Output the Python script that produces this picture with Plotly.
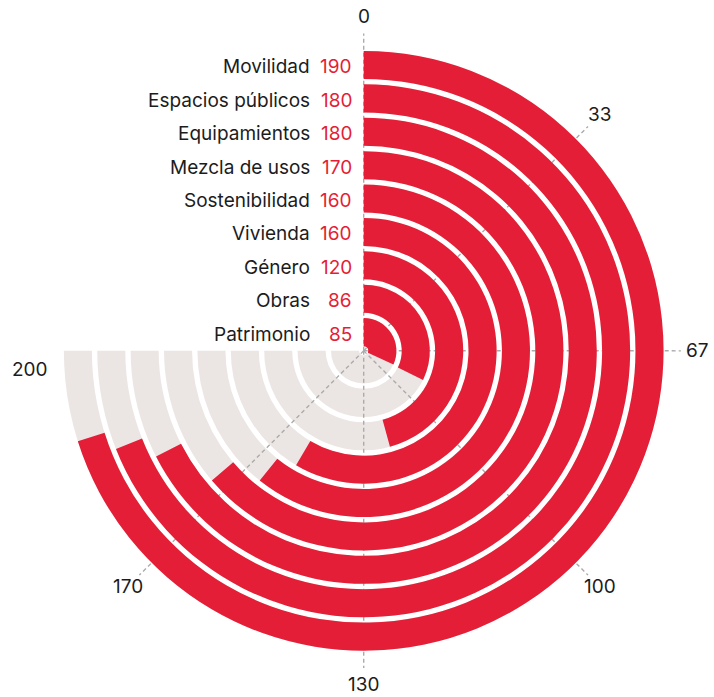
import math
import plotly.graph_objects as go

# ---------------- data ----------------
categories = ["Movilidad", "Espacios públicos", "Equipamientos", "Mezcla de usos",
              "Sostenibilidad", "Vivienda", "Género", "Obras", "Patrimonio"]
values = [187, 184, 180, 170, 162, 156, 122, 86, 85]
value_labels = ["190", "180", "180", "170", "160", "160", "120", "86", "85"]
max_value = 200
tick_values = [0, 33.33, 66.67, 100, 133.33, 166.67, 200]
tick_labels = ["0", "33", "67", "100", "130", "170", "200"]

# ---------------- style ----------------
RED = "#E41E36"
GRAY = "#EBE6E4"
GRID = "#ABABAB"
TXT = "#1c1c1c"
FONT = "Inter"
FS = 19
SWEEP = 270.0
R_MAX = 9.55
BAR_FRAC = 0.84
BAR_OFF = 0.14
PX = 33.39  # pixels per radial unit

n = len(categories)
bands = [n - 1 - k for k in range(n)]  # first category = outermost band
deg = [v / max_value * SWEEP for v in values]
tick_deg = [t / max_value * SWEEP for t in tick_values]

W, H = 714, 697
cx, cy = 363.7, 350.8
rad = R_MAX * PX
dom_x = [(cx - rad) / W, (cx + rad) / W]
dom_y = [1 - (cy + rad) / H, 1 - (cy - rad) / H]

fig = go.Figure()

# background tracks
fig.add_trace(go.Barpolar(
    r=[BAR_FRAC] * n, base=[b + BAR_OFF for b in bands],
    theta=[SWEEP / 2] * n, width=[SWEEP] * n,
    marker=dict(color=GRAY, line=dict(width=0)),
    hoverinfo="skip", subplot="polar", showlegend=False))

# dashed grid lines (above tracks, below bars); none along the closing edge
for a in tick_deg:
    if a >= SWEEP:
        continue
    fig.add_trace(go.Scatterpolar(
        r=[0, 9.5], theta=[a, a], mode="lines",
        line=dict(color=GRID, width=1.4, dash="4px,3px"),
        hoverinfo="skip", subplot="polar", showlegend=False))

# value bars
fig.add_trace(go.Barpolar(
    r=[BAR_FRAC] * n, base=[b + BAR_OFF for b in bands],
    theta=[d / 2 for d in deg], width=deg,
    marker=dict(color=RED, line=dict(width=0)),
    hoverinfo="skip", subplot="polar2", showlegend=False))

# invisible cartesian overlay (same scale/centre as the polar) for labels
fig.add_trace(go.Scatter(x=[0], y=[0], mode="markers", marker=dict(opacity=0),
                         hoverinfo="skip", showlegend=False))

ang = dict(rotation=90, direction="clockwise", showgrid=False, showline=False,
           showticklabels=False, ticks="")
radial = dict(range=[0, R_MAX], visible=False)
fig.update_layout(
    width=W, height=H,
    margin=dict(l=0, r=0, t=0, b=0),
    paper_bgcolor="white", plot_bgcolor="rgba(0,0,0,0)",
    hovermode=False,
    polar=dict(domain=dict(x=dom_x, y=dom_y), bgcolor="white",
               angularaxis=ang, radialaxis=radial, hole=0),
    polar2=dict(domain=dict(x=dom_x, y=dom_y), bgcolor="rgba(0,0,0,0)",
                angularaxis=ang, radialaxis=radial, hole=0),
    xaxis=dict(domain=[0, 1], range=[-cx / PX, (W - cx) / PX], visible=False,
               fixedrange=True),
    yaxis=dict(domain=[0, 1], range=[-(H - cy) / PX, cy / PX], visible=False,
               fixedrange=True),
)

annotations = []
for k in range(n):
    yv = bands[k] + 0.5
    annotations.append(dict(x=0, y=yv, xref="x", yref="y", text=categories[k],
                            showarrow=False, xanchor="right", yanchor="middle",
                            xshift=-52, font=dict(family=FONT, size=FS, color=TXT)))
    annotations.append(dict(x=0, y=yv, xref="x", yref="y", text=value_labels[k],
                            showarrow=False, xanchor="right", yanchor="middle",
                            xshift=-10, font=dict(family=FONT, size=FS, color=RED)))

LABEL_R = 10.0
for a, lab in zip(tick_deg, tick_labels):
    t = math.radians(a)
    annotations.append(dict(x=LABEL_R * math.sin(t), y=LABEL_R * math.cos(t),
                            xref="x", yref="y", text=lab, showarrow=False,
                            xanchor="center", yanchor="middle",
                            yshift=-19 if lab == "200" else 0,
                            font=dict(family=FONT, size=FS, color=TXT)))
fig.update_layout(annotations=annotations)

fig.write_html("out.html",
               config={"displayModeBar": False, "staticPlot": True},
               post_script="document.body.style.margin='0';"
                           "document.body.style.overflow='hidden';")
